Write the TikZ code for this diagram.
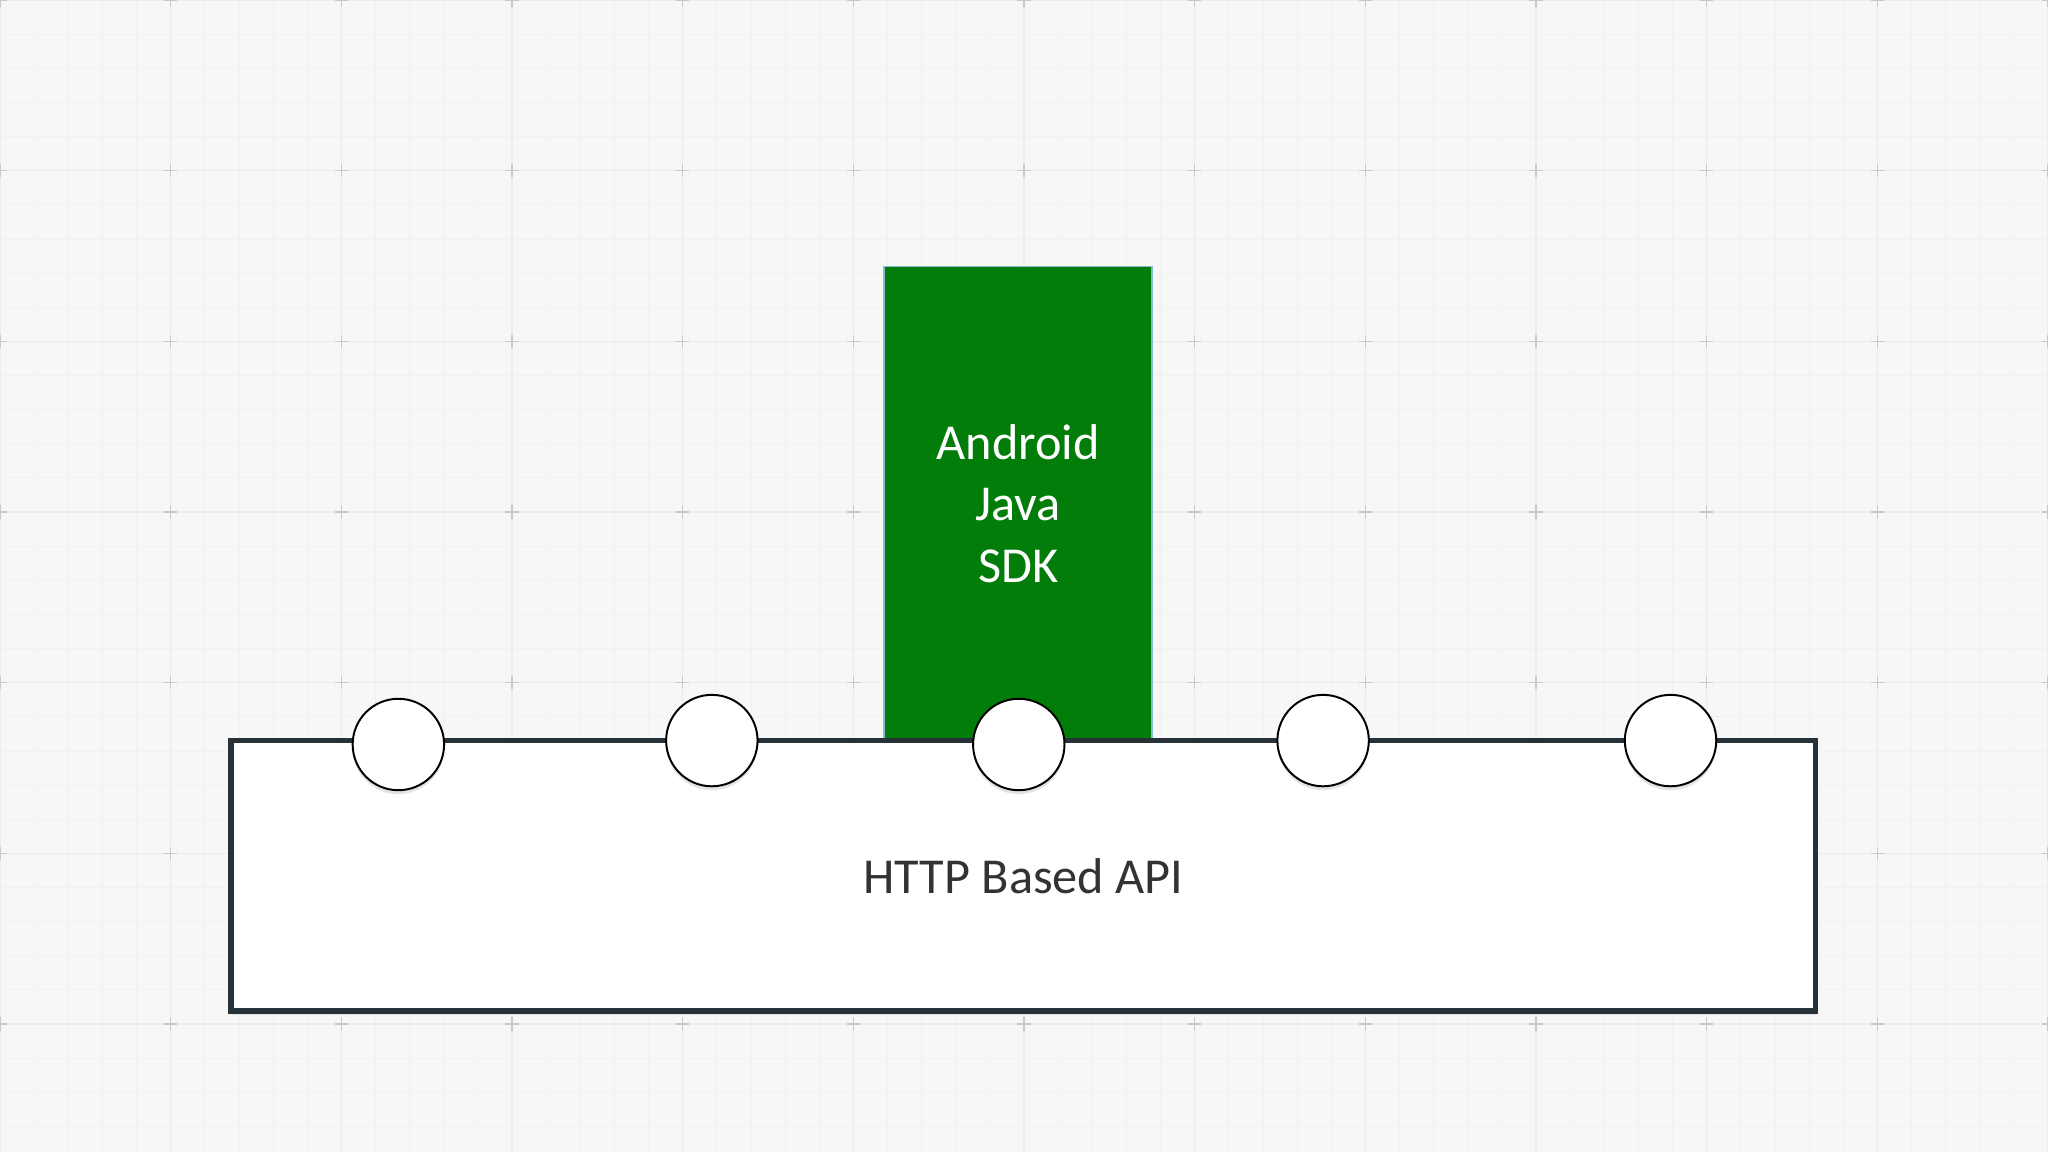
\documentclass[tikz,border=0pt]{standalone}
\usepackage{fontspec}
\setmainfont{Carlito}
\usetikzlibrary{shadows}
\definecolor{bgc}{HTML}{F7F7F7}
\definecolor{minorc}{HTML}{F1F1F1}
\definecolor{majorc}{HTML}{ECECEC}
\definecolor{crossc}{HTML}{C8C8C8}
\definecolor{sdkgreen}{RGB}{3,125,10}
\definecolor{sdkedge}{HTML}{7FBFD6}
\definecolor{apiedge}{HTML}{263238}
\definecolor{apitext}{HTML}{333333}
\begin{document}
\begin{tikzpicture}[x=1pt,y=-1pt,
  minorline/.style={draw=minorc,line width=0.6pt},
  majorline/.style={draw=majorc,line width=1pt},
  crossline/.style={draw=crossc,line width=1pt},
  sdkbox/.style={rectangle,draw=sdkedge,line width=1.2pt,fill=sdkgreen,
    minimum width=205pt,minimum height=363pt,inner sep=0pt,
    text=white,align=center,font=\fontsize{38.5}{47}\selectfont},
  apibox/.style={rectangle,draw=apiedge,line width=4.3pt,fill=white,
    minimum width=1213pt,minimum height=207pt,inner sep=0pt,
    text=apitext,font=\fontsize{38.5}{47}\selectfont,
    drop shadow={opacity=0.18,shadow xshift=0pt,shadow yshift=-3pt}},
  port/.style={circle,draw=black,line width=1.5pt,fill=white,
    minimum size=70pt,inner sep=0pt,
    drop shadow={opacity=0.22,shadow xshift=0pt,shadow yshift=-3pt}}]
\useasboundingbox (0,0) rectangle (1568,882);
\fill[bgc] (0,0) rectangle (1568,882);
% minor grid
\foreach \i in {0,...,60}{
  \draw[minorline] ({\i*26.133},0) -- ({\i*26.133},882);
}
\foreach \j in {0,...,34}{
  \draw[minorline] (0,{\j*26.133}) -- (1568,{\j*26.133});
}
% major grid
\foreach \i in {0,...,12}{
  \draw[majorline] ({\i*130.667},0) -- ({\i*130.667},882);
}
\foreach \j in {0,...,6}{
  \draw[majorline] (0,{\j*130.667}) -- (1568,{\j*130.667});
}
\foreach \i in {0,...,12}{
  \foreach \j in {0,...,6}{
    \draw[crossline] ({\i*130.667-5},{\j*130.667}) -- ({\i*130.667+5},{\j*130.667});
    \draw[crossline] ({\i*130.667},{\j*130.667-5}) -- ({\i*130.667},{\j*130.667+5});
  }
}
% SDK box (behind)
\node[sdkbox] (sdk) at (779.5,385.5) {Android\\Java\\SDK};
% API box
\node[apibox] (api) at (783.5,670.5) {HTTP Based API};
% ports
\node[port] (c1) at (305,570) {};
\node[port] (c2) at (545,567) {};
\node[port] (c3) at (780,570) {};
\node[port] (c4) at (1013,567) {};
\node[port] (c5) at (1279,567) {};
\end{tikzpicture}
\end{document}
